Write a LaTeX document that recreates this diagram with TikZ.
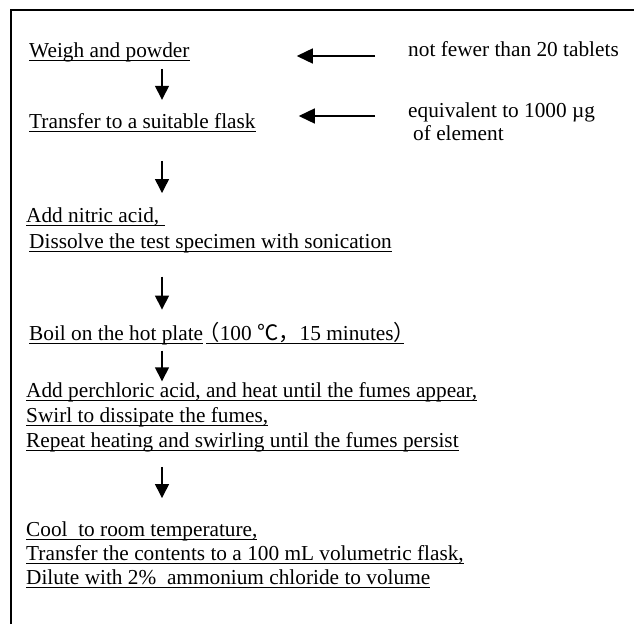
\documentclass[tikz,border=0pt]{standalone}
\usepackage{fontspec}
\setmainfont{Liberation Serif}
\newfontfamily\cjk{Noto Sans CJK SC}
\newfontfamily\cjkpar[RawFeature=+halt]{Noto Sans CJK SC}
\usetikzlibrary{arrows.meta}
\newcommand{\subrayar}[1]{\setbox0\hbox{#1}\rlap{\rule[-3.6pt]{\wd0}{0.9pt}}\box0}

\begin{document}
\begin{tikzpicture}[x=1pt,y=-1pt,
    paso/.style={anchor=base west,inner sep=0pt,align=left,font=\fontsize{21.3}{25}\selectfont},
    flecha/.style={-{Triangle[length=14pt,width=14pt]},line width=1.4pt}]
  \useasboundingbox (0,0) rectangle (634,624);
  \draw[line width=2pt] (11,624) -- (11,10) -- (634,10);
  \coordinate (eje) at (162,0);
  % pasos (base = ultima linea)
  \node[paso] (weigh) at (29,57) {\subrayar{Weigh and powder}};
  \node[paso] (transfer) at (29,128) {\subrayar{Transfer to a suitable flask}};
  \node[paso] (nitric) at (26,248) {\subrayar{Add nitric acid,\ }\\[1pt]\hspace*{3pt}\subrayar{Dissolve the test specimen with sonication}};
  \node[paso] (boil) at (29,340) {\subrayar{Boil on the hot plate}\hspace{3pt}\subrayar{\hspace*{3pt}{\cjkpar （}100 {\cjk ℃，}15 minutes{\cjkpar ）}}};
  \node[paso] (perchloric) at (26,447) {\subrayar{Add perchloric acid, and heat until the fumes appear,}\\\subrayar{Swirl to dissipate the fumes,}\\\subrayar{Repeat heating and swirling until the fumes persist}};
  \node[paso] (cool) at (26,584) {\subrayar{Cool\ \ to room temperature,}\\[-1pt]\subrayar{Transfer the contents to a 100 mL volumetric flask,}\\[-1pt]\subrayar{Dilute with 2\%\ \ ammonium chloride to volume}};
  % notas
  \node[paso] (tablets) at (408,56) {not fewer than 20 tablets};
  \node[paso] (equiv) at (408,140) {equivalent to 1000 µg\\[-2pt]\hspace*{5pt}of element};
  % flechas
  \draw[flecha,shorten <=7pt,shorten >=13pt] (weigh.south -| eje) -- (transfer.north -| eje);
  \draw[flecha,shorten <=29pt,shorten >=14pt] (transfer.south -| eje) -- (nitric.north -| eje);
  \draw[flecha,shorten <=24pt,shorten >=12pt] (nitric.south -| eje) -- (boil.north -| eje);
  \draw[flecha,shorten <=6pt,shorten >=0.5pt] (boil.south -| eje) -- (perchloric.north -| eje);
  \draw[flecha,shorten <=15pt,shorten >=23pt] (perchloric.south -| eje) -- (cool.north -| eje);
  \draw[flecha,-{Triangle[length=16pt,width=15pt]},shorten <=33pt,shorten >=107pt] (tablets.base west) -- (tablets.base west -| weigh.east);
  \draw[flecha,-{Triangle[length=16pt,width=15pt]},shorten <=33pt,shorten >=43pt] ([yshift=24pt]equiv.base west) -- ([yshift=24pt]equiv.base west -| transfer.east);
\end{tikzpicture}
\end{document}
